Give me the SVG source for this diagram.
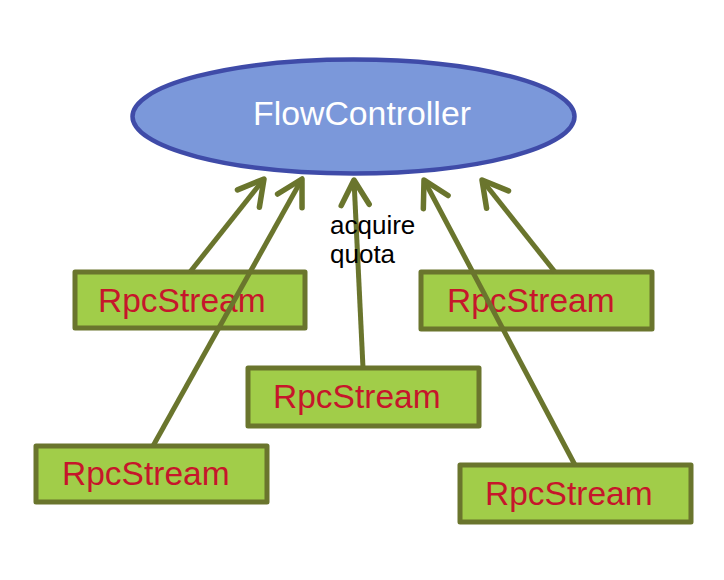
<svg xmlns="http://www.w3.org/2000/svg" width="724" height="580" viewBox="0 0 724 580">
<style>
.box{fill:#A1CD49;stroke:#6A752D;stroke-width:5;stroke-linejoin:round}
.lbl{font-family:"Liberation Sans",Arial,sans-serif;font-size:33.5px;fill:#C6162B}
.conn{stroke:#6A752D;stroke-width:5;fill:none;marker-end:url(#ah)}
</style>
<defs>
<marker id="ah" markerUnits="userSpaceOnUse" orient="auto" markerWidth="40" markerHeight="40" viewBox="-30 -20 36 40" refX="0" refY="0" overflow="visible">
<path d="M-25,-14 L0,0 L-25,14" fill="none" stroke="#6A752D" stroke-width="5.5" stroke-linecap="round" stroke-linejoin="round"/>
</marker>
</defs>
<rect width="724" height="580" fill="#FFFFFF"/>
<g id="flowcontroller">
<ellipse cx="353.5" cy="116.5" rx="221" ry="57" fill="#7B98DA" stroke="#3F4BA8" stroke-width="4.5"/>
<text x="362" y="125" text-anchor="middle" font-family="&quot;Liberation Sans&quot;,Arial,sans-serif" font-size="33.8px" fill="#FFFFFF">FlowController</text>
</g>
<g id="rpcstream1">
<rect class="box" x="75" y="272" width="230" height="56"/>
<text class="lbl" x="98" y="312">RpcStream</text>
</g>
<g id="rpcstream3">
<rect class="box" x="421" y="272" width="231" height="57"/>
<text class="lbl" x="447" y="312">RpcStream</text>
</g>
<g id="rpcstream2">
<rect class="box" x="248" y="368" width="231" height="58"/>
<text class="lbl" x="273" y="408">RpcStream</text>
</g>
<g id="rpcstream4">
<rect class="box" x="36" y="446" width="231" height="56"/>
<text class="lbl" x="62" y="485">RpcStream</text>
</g>
<g id="rpcstream5">
<rect class="box" x="460" y="465" width="231" height="57"/>
<text class="lbl" x="485" y="505">RpcStream</text>
</g>
<g id="connectors">
<line class="conn" x1="190" y1="272" x2="264" y2="179"/>
<line class="conn" x1="153" y1="446" x2="302" y2="179"/>
<line class="conn" x1="363" y1="368" x2="354" y2="180"/>
<line class="conn" x1="575" y1="465" x2="424" y2="180"/>
<line class="conn" x1="555" y1="272" x2="482" y2="180"/>
<text x="330" y="234" font-family="&quot;Liberation Sans&quot;,Arial,sans-serif" font-size="26px" fill="#000000">acquire</text>
<text x="330" y="263" font-family="&quot;Liberation Sans&quot;,Arial,sans-serif" font-size="26px" fill="#000000">quota</text>
</g>
</svg>
